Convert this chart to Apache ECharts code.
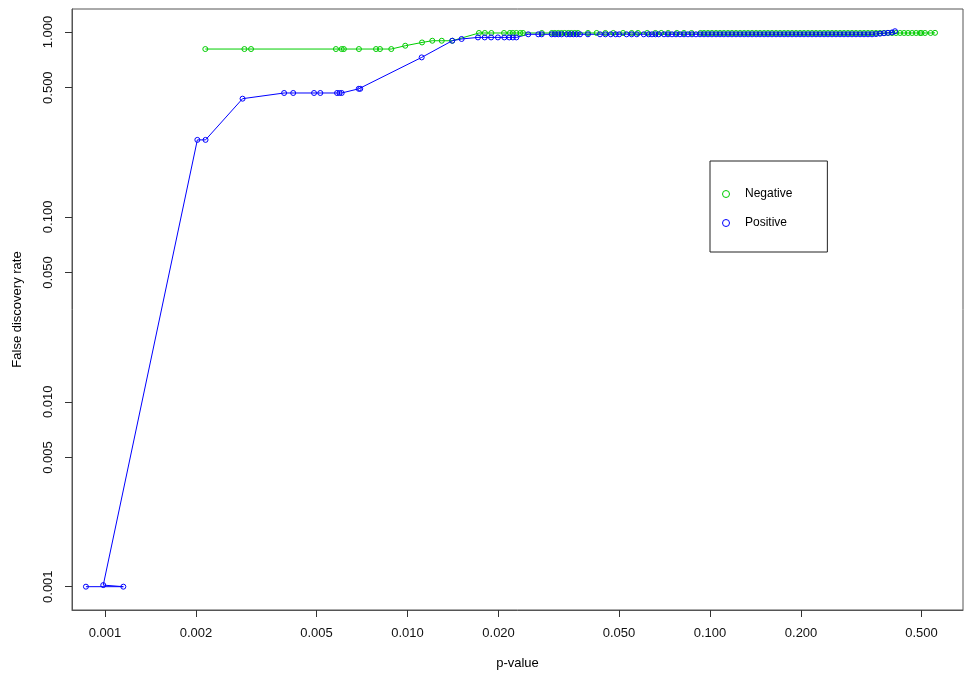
<!DOCTYPE html>
<html>
<head>
<meta charset="utf-8">
<script src="https://cdn.jsdelivr.net/npm/echarts@6/dist/echarts.min.js"></script>
<style>
html,body{margin:0;padding:0;background:#fff;}
#chart{width:964px;height:674px;}
</style>
</head>
<body>
<div id="chart"></div>
<script>
// Tick labels
const xTicks = [0.001, 0.002, 0.005, 0.01, 0.02, 0.05, 0.1, 0.2, 0.5];
const yTicks = [0.001, 0.005, 0.01, 0.05, 0.1, 0.5, 1];
const seriesNames = ['Negative', 'Positive'];

// Negative: [p-value, FDR]
const negativePoints = [
  [0.002146, 0.809], [0.00289, 0.809], [0.00304, 0.809], [0.0058, 0.809], [0.00606, 0.809],
  [0.00616, 0.809], [0.00691, 0.809], [0.00787, 0.809], [0.00811, 0.809], [0.00884, 0.809],
  [0.00983, 0.843], [0.01117, 0.878], [0.01208, 0.897], [0.01298, 0.897], [0.01406, 0.897],
  [0.01723, 0.988], [0.01802, 0.988], [0.01893, 0.988], [0.02085, 0.988], [0.0218, 0.988],
  [0.0223, 0.988], [0.0229, 0.988], [0.0236, 0.988], [0.0241, 0.988], [0.0278, 0.988],
  [0.0300, 0.988], [0.0307, 0.988], [0.0315, 0.988], [0.0323, 0.988], [0.0331, 0.988],
  [0.0340, 0.988], [0.0348, 0.988], [0.0357, 0.988], [0.0366, 0.988], [0.0395, 0.988],
  [0.0422, 0.988], [0.0451, 0.988], [0.0479, 0.988], [0.0516, 0.988], [0.0551, 0.988],
  [0.0578, 0.988], [0.0620, 0.988], [0.0660, 0.988], [0.0690, 0.988], [0.0727, 0.988],
  [0.0777, 0.988], [0.0820, 0.988], [0.0869, 0.988], [0.0930, 0.988], [0.09554, 0.988],
  [0.09849, 0.988], [0.1015, 0.988], [0.1047, 0.988], [0.1079, 0.988], [0.1112, 0.988],
  [0.1147, 0.988], [0.1182, 0.988], [0.1219, 0.988], [0.1257, 0.988], [0.1296, 0.988],
  [0.1336, 0.988], [0.1377, 0.988], [0.1420, 0.988], [0.1463, 0.988], [0.1509, 0.988],
  [0.1555, 0.988], [0.1603, 0.988], [0.1653, 0.988], [0.1704, 0.988], [0.1757, 0.988],
  [0.1811, 0.988], [0.1867, 0.988], [0.1925, 0.988], [0.1984, 0.988], [0.2045, 0.988],
  [0.2109, 0.988], [0.2174, 0.988], [0.2241, 0.988], [0.2310, 0.988], [0.2382, 0.988],
  [0.2455, 0.988], [0.2531, 0.988], [0.2609, 0.988], [0.2690, 0.988], [0.2773, 0.988],
  [0.2859, 0.988], [0.2947, 0.988], [0.3038, 0.988], [0.3133, 0.988], [0.3229, 0.988],
  [0.3329, 0.988], [0.3432, 0.988], [0.3538, 0.988], [0.3648, 0.988], [0.3760, 0.988],
  [0.3876, 0.988], [0.3996, 0.988], [0.4120, 0.988], [0.4248, 0.988], [0.4380, 0.988],
  [0.4515, 0.988], [0.4655, 0.988], [0.4800, 0.988], [0.4947, 0.988], [0.5000, 0.988],
  [0.5138, 0.988], [0.5362, 0.988], [0.5544, 0.99]
];

// Positive: [p-value, FDR]
const positivePoints = [
  [0.000865, 0.001], [0.00115, 0.001], [0.000987, 0.00102], [0.00202, 0.261], [0.00215, 0.261],
  [0.00285, 0.436], [0.00391, 0.468], [0.00419, 0.468], [0.00491, 0.468], [0.00515, 0.468],
  [0.00585, 0.468], [0.00596, 0.468], [0.00606, 0.468], [0.00690, 0.493], [0.00698, 0.493],
  [0.01114, 0.729], [0.01406, 0.897], [0.0151, 0.917],
  [0.0171, 0.935], [0.0180, 0.935], [0.0189, 0.935], [0.0199, 0.935], [0.0209, 0.935],
  [0.0217, 0.935], [0.0223, 0.935], [0.0229, 0.935],
  [0.02507, 0.972], [0.02706, 0.972], [0.02777, 0.972], [0.02998, 0.972], [0.03074, 0.972],
  [0.03151, 0.972], [0.03234, 0.972], [0.0336, 0.972], [0.03445, 0.972], [0.03533, 0.972],
  [0.03625, 0.972], [0.03718, 0.972], [0.0395, 0.972], [0.0433, 0.972], [0.0451, 0.972],
  [0.0470, 0.972], [0.0488, 0.972], [0.0501, 0.972], [0.0530, 0.972], [0.0551, 0.972],
  [0.0573, 0.972], [0.0604, 0.972], [0.0627, 0.972], [0.0643, 0.972], [0.0660, 0.972],
  [0.0677, 0.972], [0.07045, 0.972], [0.07264, 0.972], [0.07488, 0.972], [0.07719, 0.972],
  [0.07957, 0.972], [0.08204, 0.972], [0.08457, 0.972], [0.08718, 0.972], [0.08987, 0.972],
  [0.09267, 0.972], [0.09554, 0.972], [0.09849, 0.972], [0.1015, 0.972], [0.1047, 0.972],
  [0.1079, 0.972], [0.1112, 0.972], [0.1147, 0.972], [0.1182, 0.972], [0.1219, 0.972],
  [0.1257, 0.972], [0.1296, 0.972], [0.1336, 0.972], [0.1377, 0.972], [0.1420, 0.972],
  [0.1463, 0.972], [0.1509, 0.972], [0.1555, 0.972], [0.1603, 0.972], [0.1653, 0.972],
  [0.1704, 0.972], [0.1757, 0.972], [0.1811, 0.972], [0.1867, 0.972], [0.1925, 0.972],
  [0.1984, 0.972], [0.2045, 0.972], [0.2109, 0.972], [0.2174, 0.972], [0.2241, 0.972],
  [0.2310, 0.972], [0.2382, 0.972], [0.2455, 0.972], [0.2531, 0.972], [0.2609, 0.972],
  [0.2690, 0.972], [0.2773, 0.972], [0.2859, 0.972], [0.2947, 0.972], [0.3038, 0.972],
  [0.3133, 0.972], [0.3229, 0.972], [0.3329, 0.972], [0.3432, 0.972], [0.3538, 0.975],
  [0.3648, 0.980], [0.3760, 0.985], [0.3876, 0.990], [0.3996, 0.995], [0.4088, 1.01]
];

const colNeg = '#00CD00';
const colPos = '#0000FF';
const font = 'Liberation Sans, Arial, sans-serif';

const chart = echarts.init(document.getElementById('chart'), null, {renderer: 'canvas'});

function mkSeries(name, data, col) {
  return {
    name: name,
    type: 'line',
    data: data,
    symbol: 'circle',
    symbolSize: 5,
    showSymbol: true,
    showAllSymbol: true,
    animation: false,
    itemStyle: {color: 'rgba(0,0,0,0)', borderColor: col, borderWidth: 1},
    lineStyle: {color: col, width: 1},
    emphasis: {disabled: true}
  };
}

chart.setOption({
  backgroundColor: '#ffffff',
  animation: false,
  grid: {
    left: 72, right: 1, top: 9, bottom: 64,
    show: true, borderColor: '#555', borderWidth: 1,
    outerBoundsMode: 'none'
  },
  legend: {
    data: seriesNames,
    orient: 'vertical',
    left: 710, top: 161,
    icon: 'circle',
    itemWidth: 28, itemHeight: 7,
    itemGap: 17,
    padding: [27, 35, 23, 12],
    borderColor: '#222', borderWidth: 1,
    itemStyle: {borderWidth: 1},
    textStyle: {fontFamily: font, fontSize: 12, color: '#000'}
  },
  xAxis: {
    type: 'log',
    min: 0.000778, max: 0.686,
    name: 'p-value', nameLocation: 'middle', nameGap: 47,
    nameTextStyle: {fontFamily: font, fontSize: 13, color: '#000'},
    axisLine: {show: true, onZero: false, lineStyle: {color: '#555'}},
    axisTick: {show: true, length: 7, customValues: xTicks, lineStyle: {color: '#333'}},
    axisLabel: {
      customValues: xTicks, margin: 17,
      fontFamily: font, fontSize: 13, color: '#111',
      formatter: v => Number(v).toFixed(3)
    },
    splitLine: {show: false}
  },
  yAxis: {
    type: 'log',
    min: 0.000748, max: 1.332,
    name: 'False discovery rate', nameLocation: 'middle', nameGap: 48,
    nameTextStyle: {fontFamily: font, fontSize: 13, color: '#000'},
    axisLine: {show: true, onZero: false, lineStyle: {color: '#555'}},
    axisTick: {show: true, length: 7, customValues: yTicks, lineStyle: {color: '#333'}},
    axisLabel: {
      customValues: yTicks, margin: 17, rotate: 90,
      fontFamily: font, fontSize: 13, color: '#111',
      formatter: v => Number(v).toFixed(3)
    },
    splitLine: {show: false}
  },
  series: [
    mkSeries(seriesNames[0], negativePoints, colNeg),
    mkSeries(seriesNames[1], positivePoints, colPos)
  ]
});
</script>
</body>
</html>
